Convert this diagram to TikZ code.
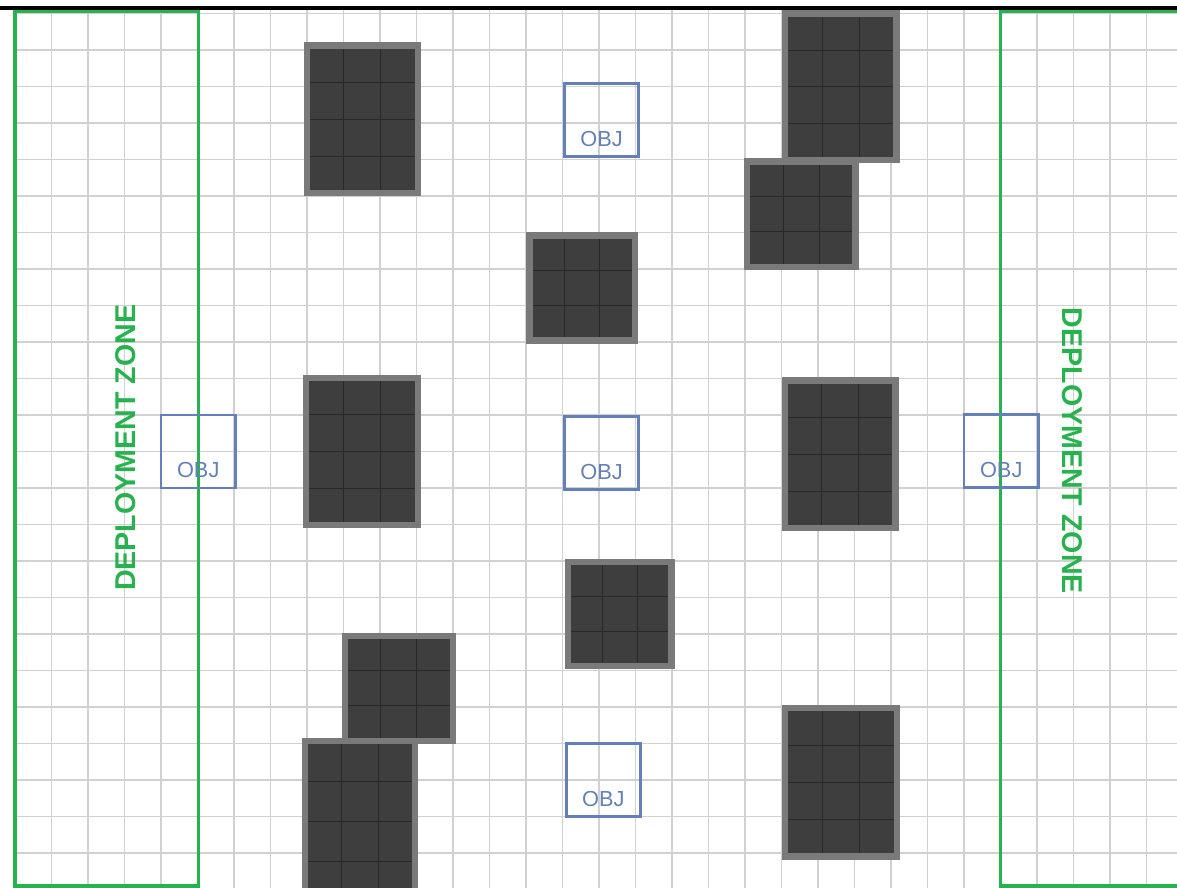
\documentclass[tikz,border=0pt]{standalone}
\usepackage{fontspec}
\setmainfont{Liberation Sans}

\definecolor{zonegreen}{RGB}{40,178,78}
\definecolor{objblue}{RGB}{100,128,184}
\definecolor{terraindark}{RGB}{62,62,62}
\definecolor{terrainrim}{RGB}{122,122,122}
\definecolor{terrainline}{RGB}{40,40,40}

\begin{document}
\begin{tikzpicture}[
    x=1cm,y=-1cm,
    line cap=butt,
    line join=miter,
    gridline/.style={draw=black!18,line width=1.1pt},
    topedge/.style={draw=black,line width=2.4pt},
    zone/.style={draw=zonegreen,line width=2.6pt},
    zonelabel/.style={text=zonegreen,inner sep=0pt,
        font=\fontsize{22.3}{26}\selectfont\bfseries},
    terrain/.style={fill=terraindark},
    terraincells/.style={draw=terrainline,line width=0.8pt},
    terrainedge/.style={draw=terrainrim,line width=5pt},
    objbox/.style={draw=objblue,line width=2.2pt},
    objlabel/.style={text=objblue,inner sep=0pt,
        font=\fontsize{17}{19}\selectfont}
]

\useasboundingbox (-0.411,-0.370) rectangle (31.836,23.932);
\clip (-0.411,-0.370) rectangle (31.836,23.932);

\foreach \k in {0,...,32}
    \draw[gridline] (\k,-0.15) -- (\k,24);
\foreach \j in {0,...,23}
    \draw[gridline] (0,\j) -- (32.5,\j);

\draw[topedge] (-0.5,-0.15) -- (32.5,-0.15);

\draw[zone] (0,-0.05) rectangle (5.02,23.9);
\draw[zone] (27,-0.05) rectangle (33,23.9);

\node[zonelabel,rotate=90] (zoneleft) at (3.04,11.9) {DEPLOYMENT ZONE};
\node[zonelabel,rotate=-90] (zoneright) at (28.96,11.98) {DEPLOYMENT ZONE};

\foreach \bx/\by/\bw/\bh/\nr in {
        8/0.88/3.04/4.04/4,
        21.1/0/3.05/4.02/4,
        20.05/4.05/2.98/2.9/3,
        14.1/6.08/2.88/2.88/3,
        7.98/9.98/3.06/4.04/4,
        21.1/10.05/3.02/4.05/4,
        15.15/15.02/2.84/2.86/3,
        9.04/17.05/2.96/2.88/3,
        7.94/19.93/3.02/4.4/4,
        21.1/19.03/3.07/4.06/4} {
    \fill[terrain] (\bx,\by) rectangle ++(\bw,\bh);
    \draw[terraincells] ({\bx+\bw/3},\by) -- ++(0,\bh);
    \draw[terraincells] ({\bx+2*\bw/3},\by) -- ++(0,\bh);
    \pgfmathtruncatemacro\lastrow{\nr-1}
    \foreach \j in {1,...,\lastrow}
        \draw[terraincells] (\bx,{\by+\j*\bh/\nr}) -- ++(\bw,0);
    \draw[terrainedge] (\bx,\by) rectangle ++(\bw,\bh);
}

\foreach \ox/\oy/\nm in {15.05/1.92/top, 4/11/left, 15.05/11.05/mid,
        26/10.98/right, 15.1/20/low} {
    \draw[objbox] (\ox,\oy) rectangle ++(2.03,2);
    \node[objlabel] (obj\nm) at (\ox+1.02,\oy+1.52) {OBJ};
}

\end{tikzpicture}
\end{document}
